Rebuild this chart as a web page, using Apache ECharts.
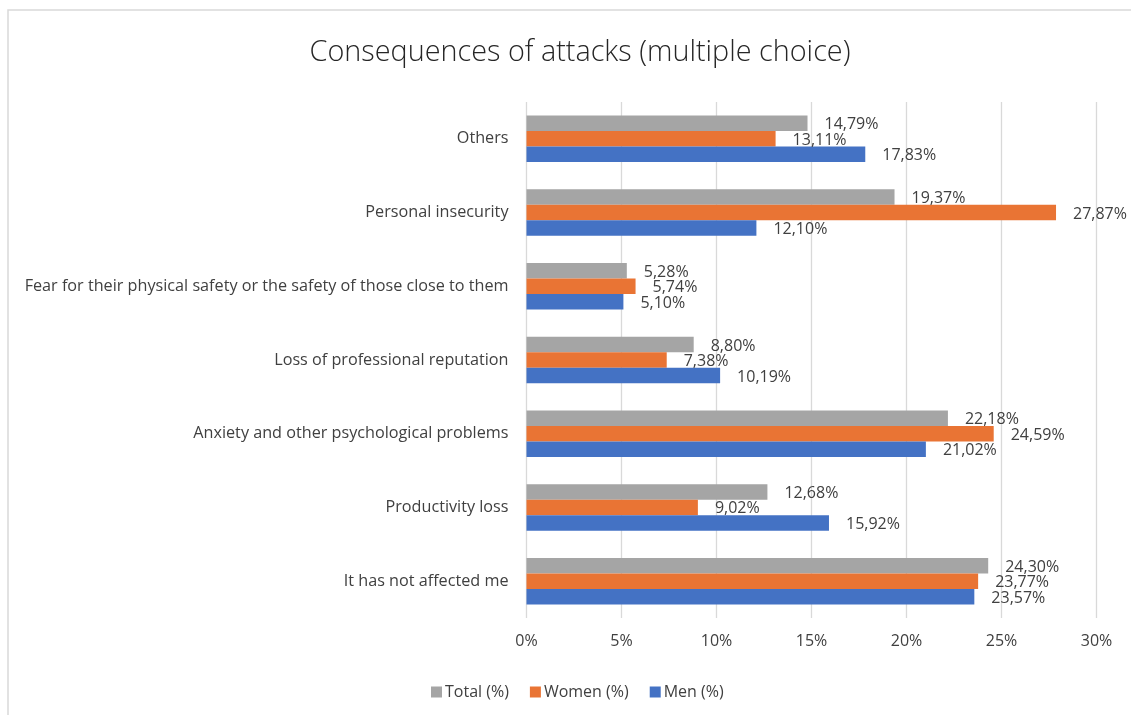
<!DOCTYPE html>
<html>
<head>
<meta charset="utf-8">
<script src="https://cdn.jsdelivr.net/npm/echarts@6/dist/echarts.min.js"></script>
<style>
  html, body { margin: 0; padding: 0; background: #fff; }
  #chart { width: 1131px; height: 715px; }
</style>
</head>
<body>
<div id="chart"></div>
<script>
// Categories listed bottom to top, as the y axis draws them
const categories = [
  'It has not affected me',
  'Productivity loss',
  'Anxiety and other psychological problems',
  'Loss of professional reputation',
  'Fear for their physical safety or the safety of those close to them',
  'Personal insecurity',
  'Others'
];
const totalPct = [24.30, 12.68, 22.18, 8.80, 5.28, 19.37, 14.79];
const womenPct = [23.77, 9.02, 24.59, 7.38, 5.74, 27.87, 13.11];
const menPct   = [23.57, 15.92, 21.02, 10.19, 5.10, 12.10, 17.83];
const seriesNames = ['Total (%)', 'Women (%)', 'Men (%)'];
const xTicks = [0, 5, 10, 15, 20, 25, 30];

const FONT = 'Open Sans';
const TEXT = '#404040';

const pct = v => v.toFixed(2).replace('.', ',') + '%';

function barSeries(name, data, color) {
  return {
    name: name,
    type: 'bar',
    data: data,
    barWidth: 15.5,
    barGap: '0%',
    itemStyle: { color: color },
    label: {
      show: true,
      position: 'right',
      distance: 17,
      offset: [0, 1.5],
      fontFamily: FONT,
      fontSize: 16,
      color: TEXT,
      formatter: p => pct(p.value)
    }
  };
}

const chart = echarts.init(document.getElementById('chart'), null, { renderer: 'canvas' });
chart.setOption({
  backgroundColor: '#fff',
  animation: false,
  title: {
    text: 'Consequences of attacks (multiple choice)',
    left: 575,
    textAlign: 'center',
    top: 33,
    textStyle: { fontFamily: FONT, fontSize: 28.8, fontWeight: 300, color: '#262626' }
  },
  graphic: [{
    type: 'rect',
    shape: { x: 8, y: 10, width: 1300, height: 900 },
    style: { fill: null, stroke: '#d9d9d9', lineWidth: 1.5 },
    silent: true
  }],
  legend: {
    data: seriesNames,
    left: 426,
    top: 679,
    itemWidth: 11,
    itemHeight: 11,
    itemGap: 21,
    icon: 'rect',
    textStyle: { fontFamily: FONT, fontSize: 16, color: TEXT, padding: [0, 0, 0, -2] }
  },
  grid: { left: 526.5, right: 34.5, top: 102, bottom: 97 },
  xAxis: {
    type: 'value',
    min: xTicks[0],
    max: xTicks[xTicks.length - 1],
    interval: 5,
    axisLine: { show: false },
    axisTick: { show: false },
    splitLine: { lineStyle: { color: '#d9d9d9', width: 1.3 } },
    axisLabel: {
      margin: 15,
      fontFamily: FONT,
      fontSize: 16,
      color: TEXT,
      formatter: v => v + '%'
    }
  },
  yAxis: {
    type: 'category',
    data: categories,
    axisLine: { show: false },
    axisTick: { show: false },
    axisLabel: { margin: 18, fontFamily: FONT, fontSize: 16.2, color: TEXT }
  },
  series: [
    barSeries(seriesNames[0], totalPct, '#a5a5a5'),
    barSeries(seriesNames[1], womenPct, '#e97434'),
    barSeries(seriesNames[2], menPct, '#4472c4')
  ]
});
</script>
</body>
</html>
